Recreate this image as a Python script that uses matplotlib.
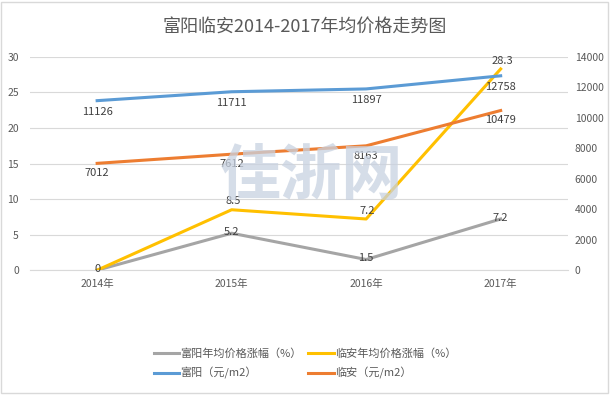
import matplotlib.pyplot as plt
from matplotlib.patches import Rectangle

plt.rcParams['font.family'] = ['Noto Sans CJK SC', 'DejaVu Sans']

years = ['2014年', '2015年', '2016年', '2017年']
fy_rate = [0, 5.2, 1.5, 7.2]
la_rate = [0, 8.5, 7.2, 28.3]
fy_price = [11126, 11711, 11897, 12758]
la_price = [7012, 7612, 8163, 10479]

c_gray = '#A5A5A5'
c_yellow = '#FFC000'
c_blue = '#5B9BD5'
c_orange = '#ED7D31'
txt = '#595959'

fig = plt.figure(figsize=(6.1, 3.95), dpi=100)
ax = fig.add_axes([0.049, 0.316, 0.882, 0.54])
ax2 = ax.twinx()

x = list(range(len(years)))

l1, = ax.plot(x, fy_rate, color=c_gray, lw=2.2, label='富阳年均价格涨幅（%）', zorder=3)
l2, = ax.plot(x, la_rate, color=c_yellow, lw=2.2, label='临安年均价格涨幅（%）', zorder=3)
l3, = ax2.plot(x, fy_price, color=c_blue, lw=2.2, label='富阳（元/m2）')
l4, = ax2.plot(x, la_price, color=c_orange, lw=2.2, label='临安（元/m2）')

ax.set_xlim(-0.5, 3.5)
ax.set_ylim(0, 30)
ax.set_yticks(range(0, 31, 5))
ax2.set_ylim(0, 14000)
ax2.set_yticks(range(0, 14001, 2000))
ax.set_xticks(x)
ax.set_xticklabels(years)

ax.grid(axis='y', color='#D9D9D9', lw=0.8)
ax.set_axisbelow(True)
for a in (ax, ax2):
    for s in a.spines.values():
        s.set_visible(False)
    a.tick_params(length=0, labelsize=7.5, colors=txt)
ax.spines['bottom'].set_visible(True)
ax.spines['bottom'].set_color('#D9D9D9')
ax.tick_params(axis='y', pad=8)
ax2.tick_params(axis='y', pad=5)
ax.tick_params(axis='x', pad=6)

# watermark
fig.text(0.51, 0.55, '佳浙网', fontsize=44, fontweight='bold', color='#C8D2E1',
         alpha=0.75, ha='center', va='center', zorder=0)

def lab(a, xs, ys, dx, dy):
    for xi, yi in zip(xs, ys):
        a.annotate(f'{yi:g}', (xi, yi), xytext=(dx, dy), textcoords='offset points',
                   ha='center', va='center', fontsize=8, color='#404040')

lab(ax2, x, fy_price, 0, -8)
lab(ax2, x, la_price, 0, -7)
lab(ax, x, fy_rate, 0, 1)
lab(ax, x[1:], la_rate[1:], 1, 6)

fig.suptitle('富阳临安2014-2017年均价格走势图', y=0.955, fontsize=13, color=txt)

fig.legend(handles=[l1, l3, l2, l4], ncol=2, loc='center', bbox_to_anchor=(0.5, 0.08),
           frameon=False, fontsize=8, labelcolor=txt, handlelength=2.3,
           handletextpad=0.1, columnspacing=0.6, labelspacing=0.75)

fig.patches.append(Rectangle((0.002, 0.004), 0.994, 0.992, transform=fig.transFigure,
                             fill=False, edgecolor='#D9D9D9', lw=1))

fig.savefig('out.png', dpi=100)
